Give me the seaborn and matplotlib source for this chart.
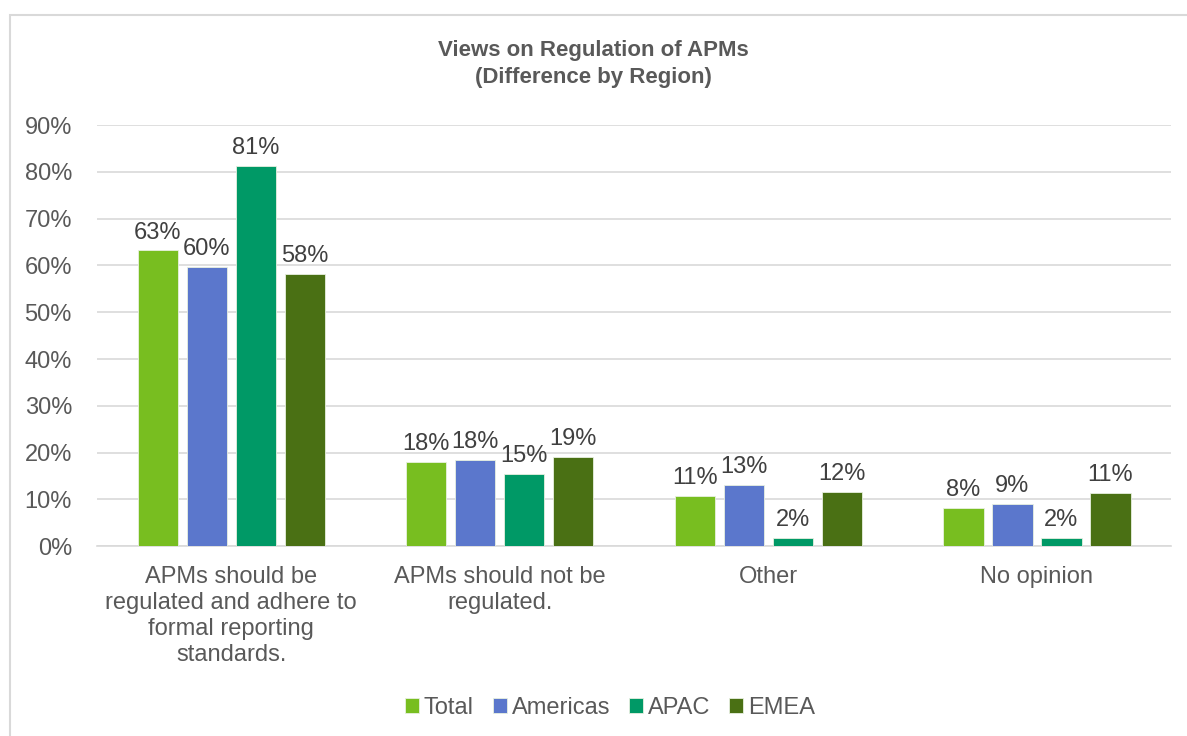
import pandas as pd
import numpy as np
import matplotlib.pyplot as plt
import seaborn as sns
from matplotlib.patches import Rectangle

# Chart data (share of respondents)
categories = ["APMs should be\nregulated and adhere to\nformal reporting\nstandards.",
              "APMs should not be\nregulated.",
              "Other",
              "No opinion"]
regions = ["Total", "Americas", "APAC", "EMEA"]
total = [0.632, 0.180, 0.107, 0.082]
americas = [0.597, 0.184, 0.130, 0.090]
apac = [0.812, 0.154, 0.017, 0.017]
emea = [0.582, 0.190, 0.116, 0.114]
colors = ["#78BE20", "#5B77CC", "#009966", "#4A7014"]

# Long form table for seaborn
rows = []
for region, vals in zip(regions, [total, americas, apac, emea]):
    for cat, v in zip(categories, vals):
        rows.append({"Category": cat, "Region": region, "Value": v})
data = pd.DataFrame(rows)

sns.set_style("white")
plt.rcParams['font.family'] = ['Liberation Sans', 'DejaVu Sans']

fig = plt.figure(figsize=(11.87, 7.36), dpi=100)
ax = fig.add_axes([0.0817, 0.258, 0.905, 0.572])

sns.barplot(data=data, x="Category", y="Value", hue="Region", order=categories,
            hue_order=regions, palette=colors, saturation=1, width=0.73, gap=0.18,
            edgecolor="#E8F0E0", linewidth=0.6, ax=ax, zorder=3)

# Data labels
for container in ax.containers:
    ax.bar_label(container, labels=[f"{round(v * 100):.0f}%" for v in container.datavalues],
                 padding=5, fontsize=17, color="#404040")

ax.set_ylim(0, 0.9)
ax.set_xlim(-0.5, 3.5)
ax.set_yticks(np.arange(0, 0.91, 0.1))
ax.set_yticklabels([f"{int(t * 100)}%" for t in np.arange(0, 0.91, 0.1).round(2)])
ax.grid(axis="y", color="#D9D9D9", linewidth=1.2, zorder=0)
ax.set_axisbelow(True)
for s in ["top", "right", "left"]:
    ax.spines[s].set_visible(False)
ax.spines["bottom"].set_color("#D9D9D9")
ax.spines["bottom"].set_linewidth(1.2)
ax.tick_params(axis="both", length=0, labelsize=17, labelcolor="#595959")
ax.tick_params(axis="x", pad=14)
ax.tick_params(axis="y", pad=18)
for lbl in ax.get_xticklabels():
    lbl.set_linespacing(1.25)
ax.set_xlabel("")
ax.set_ylabel("")

fig.text(0.5, 1 - 64 / 736, "Views on Regulation of APMs\n(Difference by Region)", ha="center", va="center",
         fontsize=16, fontweight="bold", color="#595959", linespacing=1.4)

ax.legend(loc="center", ncol=4, frameon=False, fontsize=17, handlelength=0.6, handleheight=0.6,
          handletextpad=0.2, columnspacing=0.8, labelcolor="#595959")
leg = ax.get_legend()
leg.set_bbox_to_anchor((0.514, 1 - 708 / 736), transform=fig.transFigure)

# Chart frame
fig.patches.append(Rectangle((10 / 1187, -0.05), 1.1, 1 - 15 / 736 + 0.05, transform=fig.transFigure,
                             fill=False, edgecolor="#D9D9D9", linewidth=1.5))

fig.savefig("out.png", dpi=100)
